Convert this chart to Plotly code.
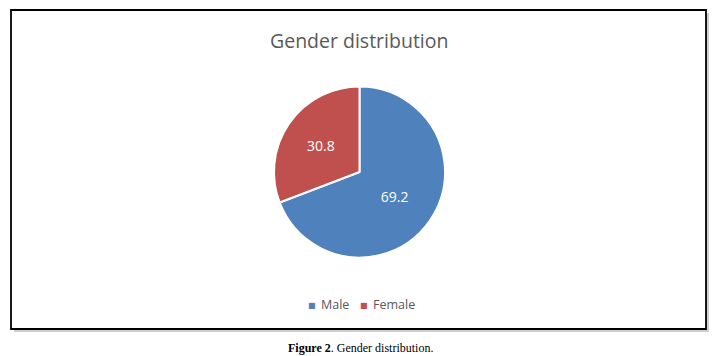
import plotly.graph_objects as go

labels = ["Male", "Female"]
values = [69.2, 30.8]
colors = ["#4F81BD", "#C0504D"]

W, H = 720, 356

def px(x): return x / W
def py(y): return 1 - y / H

fig = go.Figure()
fig.add_trace(go.Pie(
    labels=labels, values=values, sort=False, direction="clockwise", rotation=0,
    marker=dict(colors=colors, line=dict(color="white", width=2)),
    textinfo="value", texttemplate="%{value}", textposition="inside",
    insidetextorientation="horizontal",
    textfont=dict(color="white", size=14, family="Open Sans"),
    domain=dict(x=[px(274), px(445)], y=[py(257.5), py(86.5)]),
    hoverinfo="label+value",
))

shapes = [
    dict(type="rect", xref="paper", yref="paper", x0=px(14), x1=px(709), y0=py(332), y1=py(13),
         line=dict(width=0), fillcolor="#cfcfcf", layer="below"),
    dict(type="rect", xref="paper", yref="paper", x0=px(11), x1=px(706), y0=py(329), y1=py(10),
         line=dict(color="black", width=1.8), fillcolor="white", layer="below"),
]

legend_font = dict(family="Open Sans", size=12.5, color="#595959")
legend_ann = []
lx = [312, 364]
for i, (lab, col) in enumerate(zip(labels, colors)):
    legend_ann.append(dict(text="■", x=px(lx[i]), y=py(305), xref="paper", yref="paper",
                           showarrow=False, xanchor="center", yanchor="middle",
                           font=dict(family="DejaVu Sans", size=8, color=col)))
    legend_ann.append(dict(text=lab, x=px(lx[i] + 7), y=py(304.5), xref="paper", yref="paper",
                           showarrow=False, xanchor="left", yanchor="middle", font=legend_font))

fig.update_layout(
    width=W, height=H, margin=dict(l=0, r=0, t=0, b=0),
    paper_bgcolor="white", plot_bgcolor="white",
    shapes=shapes,
    showlegend=False,
    annotations=[
        dict(text="Gender distribution", x=px(359), y=py(40), xref="paper", yref="paper",
             showarrow=False, xanchor="center", yanchor="middle",
             font=dict(family="Open Sans", size=19.5, color="#595959")),
        dict(text="<b>Figure 2</b>. Gender distribution.", x=px(360), y=py(348), xref="paper", yref="paper",
             showarrow=False, xanchor="center", yanchor="middle",
             font=dict(family="Liberation Serif", size=12, color="black")),
    ] + legend_ann,
)

fig.write_html("out.html", config={"displayModeBar": False},
               post_script="document.body.style.margin='0';document.body.style.overflow='hidden';")
